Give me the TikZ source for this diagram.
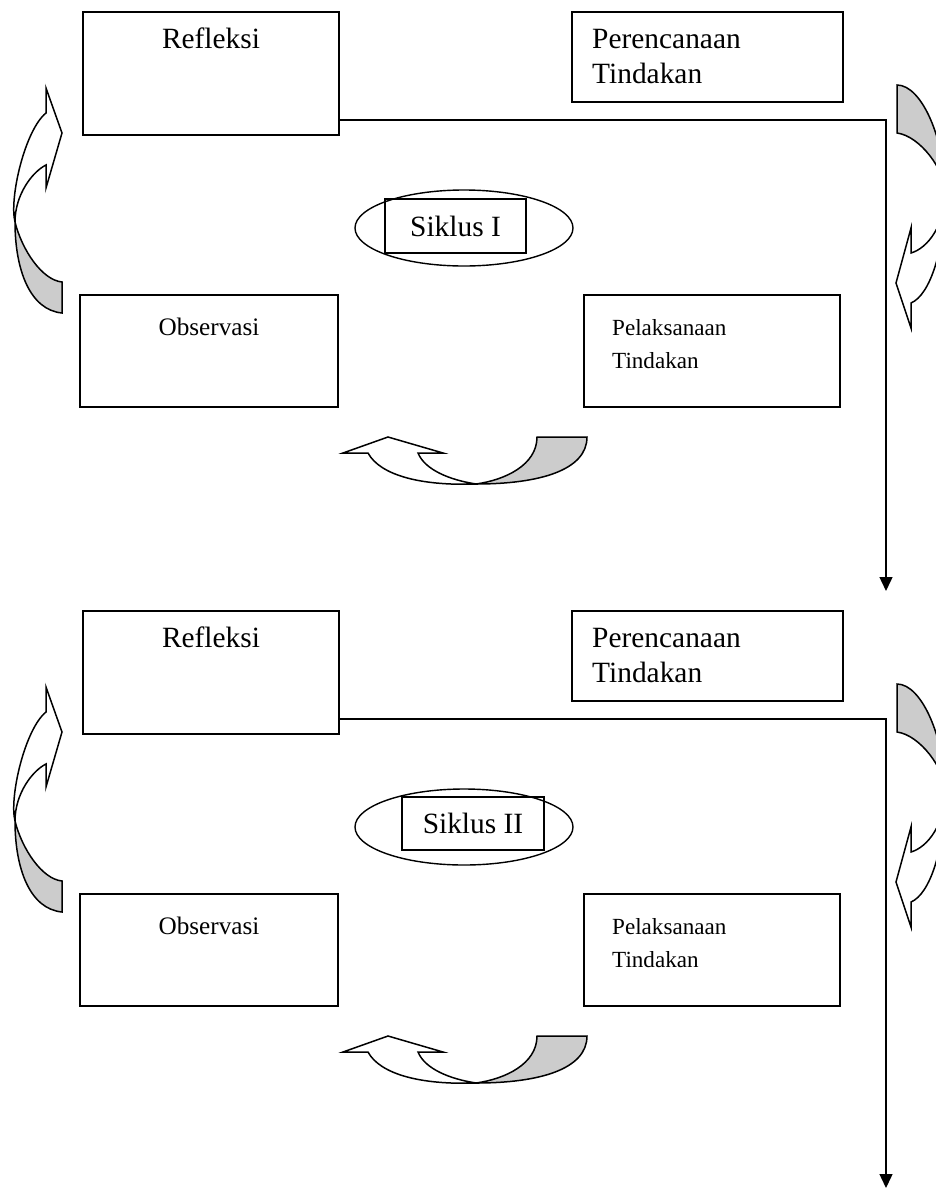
\documentclass[tikz,border=0pt]{standalone}
\usepackage{fontspec}
\setmainfont{Liberation Serif}
\usetikzlibrary{positioning,arrows.meta,shapes.geometric}
\definecolor{back_grey}{RGB}{204, 204, 204}
\tikzstyle{box}=[rectangle,draw=black,line width=1.6pt,inner sep=0pt]
\tikzstyle{big}=[font=\fontsize{29.4}{35}\selectfont,inner sep=0pt]
\tikzstyle{mid}=[font=\fontsize{25.2}{30}\selectfont,inner sep=0pt]
\tikzstyle{small}=[font=\fontsize{23.1}{33}\selectfont,inner sep=0pt]
\tikzstyle{cyc}=[ellipse,draw=black,line width=1.4pt,minimum width=218pt,minimum height=76pt]
\tikzstyle{flow}=[line width=1.4pt,-{Triangle[length=14pt,width=13pt]}]
\tikzstyle{curve}=[draw=black,fill=white,line width=1.5pt,line join=miter]
\newcommand{\leftcurve}[1]{%
  \draw[curve,shift={(0,#1)},path picture={\fill[back_grey] (0,222) rectangle (100,330);}]
    (46,165) .. controls (32,172) and (15,195) .. (15,222)
    .. controls (15,270) and (30,310) .. (62,313) -- (62,282)
    .. controls (42,280) and (22,250) .. (15,222)
    .. controls (9,198) and (25,130) .. (46,113) -- (46,88) -- (62,133) -- (46,188) -- cycle;}
\newcommand{\rightcurve}[1]{%
  \draw[curve,shift={(0,#1)},path picture={\fill[back_grey] (880,70) rectangle (960,192);}]
    (897,85) .. controls (922,85) and (945,140) .. (945,192)
    .. controls (945,225) and (928,248) .. (911,253) -- (911,228) -- (896,283) -- (911,328) -- (911,303)
    .. controls (930,295) and (945,250) .. (945,192)
    .. controls (945,170) and (920,136) .. (897,133) -- cycle;}
\newcommand{\bottomcurve}[1]{%
  \draw[curve,shift={(0,#1)},path picture={\fill[back_grey] (476,420) rectangle (600,500);}]
    (418,453) .. controls (425,470) and (450,480) .. (476,484)
    .. controls (540,484) and (587,470) .. (587,437) -- (537,437)
    .. controls (537,465) and (505,480) .. (476,484)
    .. controls (420,486) and (380,475) .. (368,453) -- (343,453) -- (388,437) -- (443,453) -- cycle;}

\begin{document}
\begin{tikzpicture}[x=1pt,y=-1pt]
    \clip (0,0) rectangle (936,1189);
    \fill[white] (0,0) rectangle (936,1189);

    \node [style=box,minimum width=256pt,minimum height=123pt] (refl1) at (211,73.5) {};
    \node [style=big,anchor=base] (refltext1) at (211,48) {Refleksi};
    \node [style=box,minimum width=271pt,minimum height=90pt] (plan1) at (707.5,57) {};
    \node [style=big,anchor=base west,align=left] (plantext1) at (592,83) {Perencanaan\\Tindakan};
    \node [style=box,minimum width=258pt,minimum height=112pt] (obs1) at (209,351) {};
    \node [style=mid,anchor=base] (obstext1) at (209,335) {Observasi};
    \node [style=box,minimum width=256pt,minimum height=112pt] (act1) at (712,351) {};
    \node [style=small,anchor=base west,align=left] (acttext1) at (612,368) {Pelaksanaan\\Tindakan};
    \node [style=cyc] (cyc1) at (464,228) {};
    \node [style=box,line width=1.4pt,big,minimum width=141pt,minimum height=54pt] (cyclab1) at (455.5,226) {Siklus I};
    \coordinate (turn1) at (886,120);
    \coordinate (end1) at (886,591);
    \draw [style=flow] (refl1.east |- turn1) to (turn1) to (end1);
    \leftcurve{0}
    \rightcurve{0}
    \bottomcurve{0}

    \node [style=box,minimum width=256pt,minimum height=123pt] (refl2) at (211,672.5) {};
    \node [style=big,anchor=base] (refltext2) at (211,647) {Refleksi};
    \node [style=box,minimum width=271pt,minimum height=90pt] (plan2) at (707.5,656) {};
    \node [style=big,anchor=base west,align=left] (plantext2) at (592,682) {Perencanaan\\Tindakan};
    \node [style=box,minimum width=258pt,minimum height=112pt] (obs2) at (209,950) {};
    \node [style=mid,anchor=base] (obstext2) at (209,934) {Observasi};
    \node [style=box,minimum width=256pt,minimum height=112pt] (act2) at (712,950) {};
    \node [style=small,anchor=base west,align=left] (acttext2) at (612,967) {Pelaksanaan\\Tindakan};
    \node [style=cyc] (cyc2) at (464,827) {};
    \node [style=box,line width=1.4pt,big,minimum width=142pt,minimum height=53pt] (cyclab2) at (473,823.5) {Siklus II};
    \coordinate (turn2) at (886,719);
    \coordinate (end2) at (886,1188);
    \draw [style=flow] (refl2.east |- turn2) to (turn2) to (end2);
    \leftcurve{599}
    \rightcurve{599}
    \bottomcurve{599}
\end{tikzpicture}
\end{document}
